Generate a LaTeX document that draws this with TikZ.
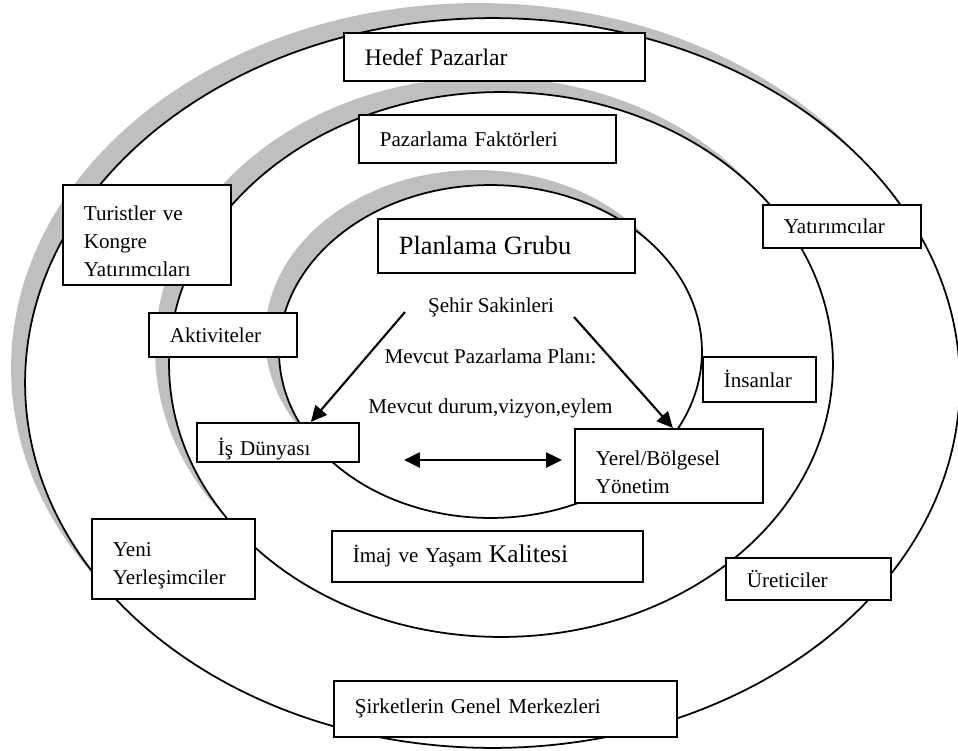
\documentclass[tikz,border=0pt]{standalone}
\usepackage{fontspec}
\setmainfont{Liberation Serif}
\usetikzlibrary{arrows.meta}

% taller first line, pushes the text a little lower in its box
\newcommand{\ustbosluk}[1]{\rule{0pt}{#1}}

\begin{document}
\begin{tikzpicture}[x=0.02cm, y=-0.02cm,
    every node/.style={font=\fontsize{12}{16}\selectfont},
    kutu/.style={draw, fill=white, line width=1pt, anchor=north west,
                 inner xsep=0.42cm, inner ysep=0pt, align=left},
    ok/.style={line width=1.2pt, -{Triangle[length=0.32cm, width=0.3cm]}},
    ciftok/.style={line width=1.5pt, {Triangle[length=0.32cm, width=0.3cm]}-{Triangle[length=0.32cm, width=0.3cm]}},
    golge/.style={fill=black!25},
    halka/.style={draw, fill=white, line width=1pt}]
    \useasboundingbox (0,0) rectangle (958,751);

    % Rings: shadow first, then the ring itself
    \foreach \cx/\cy/\rx/\ry in {492.5/383/9.35/7.3, 501/364.5/6.64/5.45,
                                 490.5/351.5/4.23/3.33} {
        \fill[golge] (\cx-14,\cy-15) ellipse [x radius=\rx cm, y radius=\ry cm];
        \draw[halka] (\cx,\cy) ellipse [x radius=\rx cm, y radius=\ry cm];
    }

    % Outer ring
    \node[kutu, text width=5.18cm, minimum height=0.96cm] (hedef) at (343,32)
        {\fontsize{13.5}{16}\selectfont Hedef Pazarlar};
    \node[kutu, text width=2.52cm, minimum height=2cm] (turist) at (62,184)
        {\ustbosluk{0.55cm}Turistler ve\\Kongre\\Yatırımcıları};
    \node[kutu, text width=2.32cm, minimum height=0.86cm] (yatirimci) at (762,204) {Yatırımcılar};
    \node[kutu, text width=2.42cm, minimum height=1.6cm] (yeni) at (91,518)
        {\ustbosluk{0.55cm}Yeni\\Yerleşimciler};
    \node[kutu, text width=2.46cm, minimum height=0.84cm] (uretici) at (725,557) {Üreticiler};
    \node[kutu, text width=6.02cm, minimum height=1.12cm] (sirket) at (333,680)
        {Şirketlerin Genel Merkezleri};

    % Middle ring
    \node[kutu, text width=4.3cm, minimum height=0.96cm] (faktor) at (358,114) {Pazarlama Faktörleri};
    \node[kutu, text width=2.12cm, minimum height=0.88cm] (aktivite) at (148,312) {Aktiviteler};
    \node[kutu, text width=1.42cm, minimum height=0.9cm] (insan) at (702,356) {İnsanlar};
    \node[kutu, text width=5.38cm, minimum height=1.02cm] (imaj) at (331,530)
        {İmaj ve Yaşam {\fontsize{14.5}{16}\selectfont Kalitesi}};

    % Inner ring
    \node[kutu, text width=4.3cm, minimum height=1.08cm] (planlama) at (377,218)
        {\fontsize{15}{18}\selectfont Planlama Grubu};
    \node[anchor=base] (sehir) at (491,312) {Şehir Sakinleri};
    \node[anchor=base] (plan) at (490.5,363) {Mevcut Pazarlama Planı:};
    \node[anchor=base] (durum) at (490.5,413) {Mevcut durum,vizyon,eylem};
    \node[kutu, text width=2.4cm, minimum height=0.78cm] (isd) at (196,422)
        {\ustbosluk{0.62cm}İş Dünyası};
    \node[kutu, text width=2.92cm, minimum height=1.48cm] (yerel) at (574,428)
        {\ustbosluk{0.55cm}Yerel/Bölgesel\\Yönetim};

    % Arrows
    \coordinate (s1) at (405,312);
    \coordinate (s2) at (574,317);
    \coordinate (cL) at (404,460);
    \coordinate (cR) at (562,460);
    \draw[ok] (s1) -- ([xshift=0.66cm]isd.north);
    \draw[ok] (s2) -- ([xshift=0.08cm]yerel.north);
    \draw[ciftok] (cL) -- (cR);
\end{tikzpicture}
\end{document}
